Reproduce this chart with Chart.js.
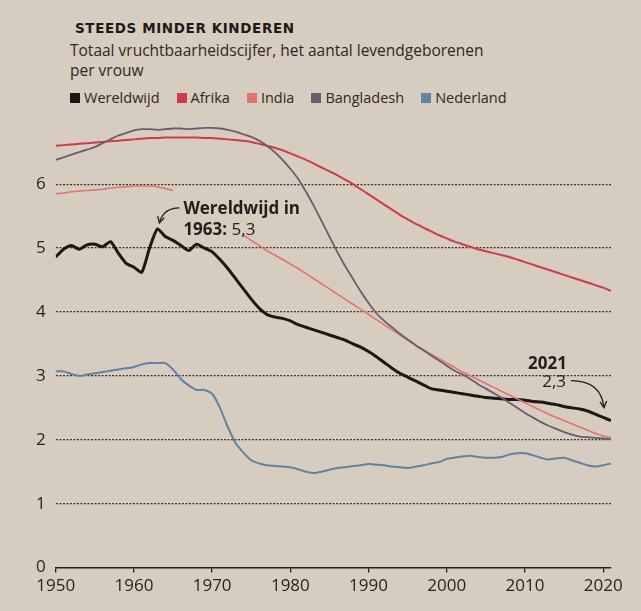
<!DOCTYPE html>
<html>
<head>
<meta charset="utf-8">
<script src="https://cdn.jsdelivr.net/npm/chart.js@4"></script>
<style>
  html, body { margin: 0; padding: 0; }
  body { width: 641px; height: 611px; background: #d6ccbf; position: relative; overflow: hidden; font-family: "Open Sans", sans-serif; color: #2a2420; }
  .title { position: absolute; left: 75px; top: 20px; font: 900 13.5px "DejaVu Sans", sans-serif; letter-spacing: 0.6px; color: #1e1a17; }
  .sub { position: absolute; left: 70px; top: 40px; font-size: 15.5px; line-height: 20px; color: #2e2824; }
  .legend { position: absolute; left: 70px; top: 88px; font-size: 14.5px; display: flex; gap: 17px; color: #2e2824; }
  .legend span { display: inline-flex; align-items: center; }
  .legend i { width: 10px; height: 10px; margin-right: 4px; display: inline-block; }
  .wrap { position: absolute; left: 0; top: 100px; }
</style>
</head>
<body>
<div class="title">STEEDS MINDER KINDEREN</div>
<div class="sub">Totaal vruchtbaarheidscijfer, het aantal levendgeborenen<br>per vrouw</div>
<div class="legend" id="legend"></div>
<div class="wrap"><canvas id="fertilityChart" width="641" height="511"></canvas></div>
<script>
// Totaal vruchtbaarheidscijfer 1950-2021
const years = [1950, 1951, 1952, 1953, 1954, 1955, 1956, 1957, 1958, 1959,
    1960, 1961, 1962, 1963, 1964, 1965, 1966, 1967, 1968, 1969,
    1970, 1971, 1972, 1973, 1974, 1975, 1976, 1977, 1978, 1979,
    1980, 1981, 1982, 1983, 1984, 1985, 1986, 1987, 1988, 1989,
    1990, 1991, 1992, 1993, 1994, 1995, 1996, 1997, 1998, 1999,
    2000, 2001, 2002, 2003, 2004, 2005, 2006, 2007, 2008, 2009,
    2010, 2011, 2012, 2013, 2014, 2015, 2016, 2017, 2018, 2019,
    2020, 2021];

const wereldwijd = [4.86, 4.98, 5.04, 4.98, 5.05, 5.06, 5.02, 5.10, 4.92, 4.76,
    4.70, 4.62, 5.00, 5.30, 5.18, 5.12, 5.04, 4.96, 5.06, 5.00,
    4.94, 4.82, 4.68, 4.52, 4.36, 4.20, 4.06, 3.96, 3.92, 3.90,
    3.86, 3.80, 3.76, 3.72, 3.68, 3.64, 3.60, 3.56, 3.50, 3.45,
    3.38, 3.30, 3.21, 3.12, 3.04, 2.98, 2.92, 2.86, 2.80, 2.78,
    2.76, 2.74, 2.72, 2.70, 2.68, 2.66, 2.65, 2.64, 2.63, 2.63,
    2.62, 2.60, 2.59, 2.57, 2.55, 2.52, 2.50, 2.48, 2.45, 2.40,
    2.35, 2.30];

const afrika = [6.60, 6.61, 6.62, 6.63, 6.64, 6.65, 6.66, 6.67, 6.68, 6.69,
    6.70, 6.71, 6.72, 6.72, 6.73, 6.73, 6.73, 6.73, 6.73, 6.72,
    6.72, 6.71, 6.70, 6.69, 6.68, 6.66, 6.63, 6.60, 6.57, 6.53,
    6.48, 6.43, 6.38, 6.32, 6.26, 6.20, 6.14, 6.07, 6.00, 5.92,
    5.84, 5.76, 5.68, 5.60, 5.52, 5.45, 5.38, 5.32, 5.26, 5.20,
    5.15, 5.10, 5.06, 5.02, 4.98, 4.95, 4.92, 4.89, 4.86, 4.82,
    4.78, 4.74, 4.70, 4.66, 4.62, 4.58, 4.54, 4.50, 4.46, 4.42,
    4.38, 4.33];

// null = lijn verborgen achter de toelichting
const india = [5.85, 5.86, 5.88, 5.89, 5.90, 5.91, 5.92, 5.94, 5.95, 5.96,
    5.97, 5.97, 5.97, 5.96, 5.93, 5.90, null, null, null, null,
    null, null, null, null, 5.20, 5.12, 5.04, 4.96, 4.89, 4.82,
    4.75, 4.68, 4.60, 4.52, 4.44, 4.36, 4.28, 4.20, 4.12, 4.04,
    3.96, 3.88, 3.80, 3.72, 3.64, 3.56, 3.48, 3.41, 3.34, 3.27,
    3.20, 3.13, 3.06, 3.00, 2.94, 2.88, 2.82, 2.76, 2.70, 2.64,
    2.58, 2.52, 2.46, 2.40, 2.35, 2.30, 2.25, 2.20, 2.15, 2.10,
    2.06, 2.03];

const bangladesh = [6.38, 6.42, 6.46, 6.50, 6.54, 6.58, 6.64, 6.70, 6.76, 6.80,
    6.84, 6.86, 6.86, 6.85, 6.86, 6.87, 6.87, 6.86, 6.87, 6.88,
    6.88, 6.87, 6.85, 6.82, 6.78, 6.74, 6.68, 6.60, 6.50, 6.38,
    6.24, 6.08, 5.88, 5.66, 5.42, 5.18, 4.94, 4.72, 4.52, 4.32,
    4.14, 3.98, 3.86, 3.76, 3.66, 3.57, 3.48, 3.40, 3.32, 3.24,
    3.16, 3.08, 3.02, 2.95, 2.87, 2.80, 2.73, 2.66, 2.58, 2.50,
    2.42, 2.35, 2.28, 2.22, 2.17, 2.12, 2.08, 2.05, 2.04, 2.03,
    2.02, 2.01];

const nederland = [3.07, 3.07, 3.03, 3.00, 3.02, 3.04, 3.06, 3.08, 3.10, 3.12,
    3.14, 3.18, 3.20, 3.20, 3.20, 3.10, 2.95, 2.85, 2.78, 2.78,
    2.72, 2.50, 2.20, 1.95, 1.80, 1.68, 1.63, 1.60, 1.59, 1.58,
    1.57, 1.54, 1.50, 1.48, 1.50, 1.53, 1.56, 1.57, 1.59, 1.60,
    1.62, 1.61, 1.60, 1.58, 1.57, 1.56, 1.58, 1.60, 1.63, 1.65,
    1.70, 1.72, 1.74, 1.75, 1.73, 1.72, 1.72, 1.73, 1.77, 1.79,
    1.79, 1.76, 1.72, 1.69, 1.71, 1.72, 1.68, 1.64, 1.60, 1.58,
    1.60, 1.63];

const seriesNames = ['Wereldwijd', 'Afrika', 'India', 'Bangladesh', 'Nederland'];
const seriesValues = [wereldwijd, afrika, india, bangladesh, nederland];
const seriesColors = ['#1b1715', '#d3394b', '#e2736c', '#6b5b70', '#6283a0'];
const seriesWidths = [3, 2, 1.6, 1.8, 2];

const xTicks = [1950, 1960, 1970, 1980, 1990, 2000, 2010, 2020];
const yTicks = [0, 1, 2, 3, 4, 5, 6];

const peakYear = 1963, peakValue = 5.3;
const lastYear = 2021, lastValue = 2.3;

const ink = '#231e1b';

// legenda
const legendEl = document.getElementById('legend');
seriesNames.forEach((name, i) => {
    const s = document.createElement('span');
    s.innerHTML = '<i style="background:' + seriesColors[i] + '"></i>' + name;
    legendEl.appendChild(s);
});

function arrow(ctx, sx, sy, cx, cy, ex, ey) {
    ctx.beginPath();
    ctx.moveTo(sx, sy);
    ctx.quadraticCurveTo(cx, cy, ex, ey);
    ctx.stroke();
    const a = Math.atan2(ey - cy, ex - cx);
    const len = 7;
    ctx.beginPath();
    ctx.moveTo(ex - len * Math.cos(a - 0.5), ey - len * Math.sin(a - 0.5));
    ctx.lineTo(ex, ey);
    ctx.lineTo(ex - len * Math.cos(a + 0.5), ey - len * Math.sin(a + 0.5));
    ctx.stroke();
}

const notes = {
    id: 'notes',
    afterDatasetsDraw(chart) {
        const { ctx, scales: { x, y } } = chart;
        ctx.save();
        ctx.fillStyle = ink;
        ctx.strokeStyle = ink;
        ctx.lineWidth = 1.3;
        ctx.textBaseline = 'alphabetic';

        // piek 1963
        const px = x.getPixelForValue(peakYear);
        const py = y.getPixelForValue(peakValue);
        ctx.font = 'bold 17px "Open Sans"';
        ctx.textAlign = 'left';
        ctx.fillText('Wereldwijd in', px + 26, py - 15);
        ctx.fillText('1963:', px + 26, py + 6);
        const w = ctx.measureText('1963: ').width;
        ctx.font = '17px "Open Sans"';
        ctx.fillText('5,3', px + 26 + w, py + 6);
        arrow(ctx, px + 22, py - 21, px + 6, py - 21, px + 2, py - 6);

        // 2021
        const ex = x.getPixelForValue(lastYear);
        const ey = y.getPixelForValue(lastValue);
        ctx.textAlign = 'right';
        ctx.font = 'bold 17px "Open Sans"';
        ctx.fillText('2021', ex - 44, ey - 52);
        ctx.font = '17px "Open Sans"';
        ctx.fillText('2,3', ex - 45, ey - 34);
        arrow(ctx, ex - 40, ey - 40, ex - 10, ey - 40, ex - 7, ey - 13);
        ctx.restore();
    }
};

new Chart(document.getElementById('fertilityChart'), {
    type: 'line',
    data: {
        datasets: seriesNames.map((name, i) => ({
            label: name,
            data: seriesValues[i].map((v, j) => ({ x: years[j], y: v })),
            borderColor: seriesColors[i],
            borderWidth: seriesWidths[i],
            pointRadius: 0,
            tension: 0.2,
            spanGaps: false
        })).reverse()
    },
    options: {
        responsive: false,
        animation: false,
        devicePixelRatio: 1,
        layout: { padding: { left: 26, right: 30, top: 8, bottom: 12 } },
        plugins: { legend: { display: false }, tooltip: { enabled: false } },
        scales: {
            x: {
                type: 'linear',
                min: 1950,
                max: 2021,
                afterBuildTicks: s => { s.ticks = xTicks.map(v => ({ value: v })); },
                grid: { drawOnChartArea: false, drawTicks: true, tickLength: 5, color: ink, lineWidth: 1.3 },
                border: { display: true, color: ink, width: 1.5 },
                ticks: {
                    color: '#2a2420', font: { family: 'Open Sans', size: 17 }, padding: 3, maxRotation: 0,
                    callback: v => String(v)
                }
            },
            y: {
                min: 0,
                max: 7,
                afterBuildTicks: s => { s.ticks = yTicks.map(v => ({ value: v })); },
                grid: {
                    drawTicks: false,
                    color: c => c.tick && c.tick.value === 0 ? 'rgba(0,0,0,0)' : '#3b342d',
                    lineWidth: 1.2
                },
                border: { display: false, dash: [2, 1.5] },
                ticks: { color: '#2a2420', font: { family: 'Open Sans', size: 17 }, padding: 10 }
            }
        }
    },
    plugins: [notes]
});
</script>
</body>
</html>
